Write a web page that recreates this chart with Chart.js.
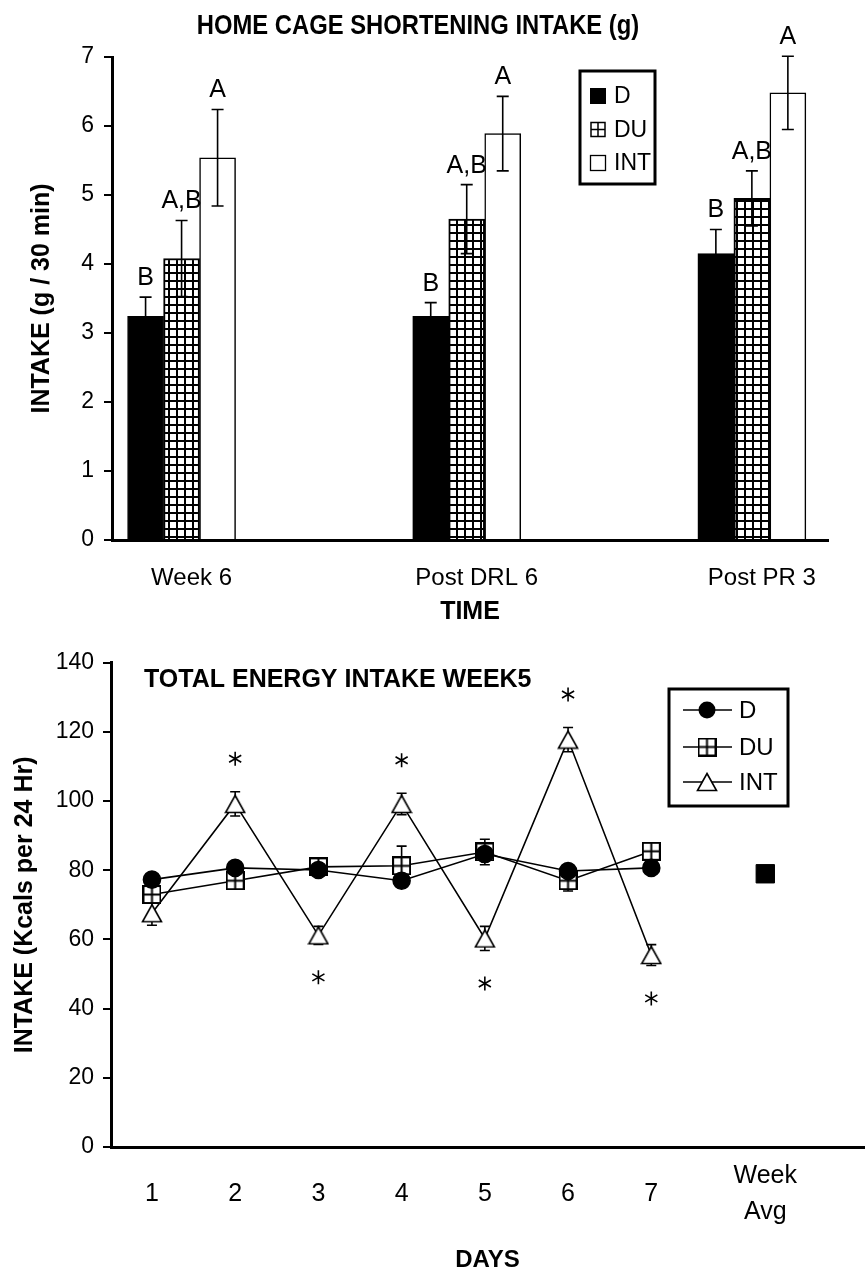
<!DOCTYPE html>
<html><head><meta charset="utf-8">
<script src="https://cdn.jsdelivr.net/npm/chart.js@4.4.1/dist/chart.umd.min.js"></script>
<style>
html,body{margin:0;padding:0;background:#fff;width:867px;height:1278px;overflow:hidden;}
.w{position:absolute;left:0;width:867px;}
#w1{top:0;height:640px;} #w2{top:640px;height:638px;}
canvas{display:block;}
</style></head><body>
<div class="w" id="w1"><canvas id="c1" width="867" height="640" style="width:867px;height:640px"></canvas></div>
<div class="w" id="w2"><canvas id="c2" width="867" height="638" style="width:867px;height:638px"></canvas></div>
<script>
// ---------- TOP CHART DATA ----------
const timeLabels = ['Week 6', 'Post DRL 6', 'Post PR 3'];
const shortD = [3.24, 3.24, 4.15];
const shortDErr = [0.28, 0.20, 0.35];
const shortDU = [4.08, 4.65, 4.95];
const shortDUErr = [0.55, 0.50, 0.40];
const shortINT = [5.54, 5.89, 6.48];
const shortINTErr = [0.70, 0.54, 0.53];
const letterD = ['B', 'B', 'B'];
const letterDU = ['A,B', 'A,B', 'A,B'];
const letterINT = ['A', 'A', 'A'];
const seriesNames = ['D', 'DU', 'INT'];

// ---------- BOTTOM CHART DATA ----------
const dayLabels = ['1', '2', '3', '4', '5', '6', '7', ['Week', 'Avg']];
const dayPos = [1, 2, 3, 4, 5, 6, 7, 8.37];
const energyD = [77.3, 80.7, 80.1, 77.0, 84.7, 79.8, 80.7];
const energyDErr = [1.5, 1.5, 1.5, 1.5, 2.0, 1.5, 1.5];
const energyDU = [73.0, 77.0, 81.0, 81.3, 85.3, 77.0, 85.5];
const energyDUErr = [1.5, 1.5, 1.5, 5.7, 3.7, 3.0, 2.0];
const energyINT = [67.6, 99.2, 61.2, 99.2, 60.3, 117.8, 55.5];
const energyINTErr = [3.5, 3.5, 2.6, 3.1, 3.5, 3.5, 3.0];
const weekAvgD = [79.0];
const weekAvgDU = [79.0];
const intSignificance = [0, 1, -1, 1, -1, 1, -1]; // 1 = asterisk above, -1 = below

const SANS = '"Liberation Sans", Arial, sans-serif';

// hatch pattern
const hatchTile = document.createElement('canvas');
hatchTile.width = 8; hatchTile.height = 8;
(function(){const g = hatchTile.getContext('2d');
g.fillStyle = '#fff'; g.fillRect(0,0,8,8);
g.fillStyle = '#000'; g.fillRect(0,0,8,2); g.fillRect(0,0,2,8);})();
const ctx1 = document.getElementById('c1').getContext('2d');
const hatch = ctx1.createPattern(hatchTile, 'repeat');

// marker canvases
function mkSquare(){
  const s = 19, c = document.createElement('canvas'); c.width = s; c.height = s;
  const g = c.getContext('2d');
  g.fillStyle = '#fff'; g.fillRect(1,1,s-2,s-2);
  g.strokeStyle = '#000'; g.lineWidth = 2; g.strokeRect(1,1,s-2,s-2);
  g.beginPath(); g.moveTo(s/2,1); g.lineTo(s/2,s-1); g.moveTo(1,s/2); g.lineTo(s-1,s/2); g.stroke();
  return c;
}
function mkTri(){
  const w = 22, h = 20, c = document.createElement('canvas'); c.width = w; c.height = h;
  const g = c.getContext('2d');
  g.beginPath(); g.moveTo(w/2,1.5); g.lineTo(w-1.5,h-1.5); g.lineTo(1.5,h-1.5); g.closePath();
  g.fillStyle = '#fff'; g.fill(); g.strokeStyle = '#000'; g.lineWidth = 1.6; g.stroke();
  return c;
}
const sqMarker = mkSquare();
const triMarker = mkTri();

function barData(arr){ return arr.map((v,i)=>({x:i, y:v})); }

const topPlugin = {
  id: 'topExtras',
  afterDatasetsDraw(chart){
    const {ctx, scales:{y}} = chart;
    ctx.save();
    chart.data.datasets.forEach((ds, i) => {
      const meta = chart.getDatasetMeta(i);
      meta.data.forEach((bar, j) => {
        const m = ds.data[j].y, e = ds.errors[j];
        const x = bar.x, yt = y.getPixelForValue(m + e), yb = y.getPixelForValue(m - e);
        ctx.strokeStyle = '#000'; ctx.lineWidth = 1.6;
        ctx.beginPath();
        ctx.moveTo(x, yt); ctx.lineTo(x, yb);
        ctx.moveTo(x - 6, yt); ctx.lineTo(x + 6, yt);
        ctx.moveTo(x - 6, yb); ctx.lineTo(x + 6, yb);
        ctx.stroke();
        ctx.fillStyle = '#000';
        ctx.font = '25px ' + SANS;
        ctx.textAlign = 'center'; ctx.textBaseline = 'middle';
        ctx.fillText(ds.letters[j], x, yt - 19);
      });
    });
    ctx.restore();
  },
  afterDraw(chart){
    const {ctx} = chart;
    ctx.save();
    // title (narrow bold)
    ctx.fillStyle = '#000';
    ctx.font = 'bold 28px ' + SANS;
    ctx.textAlign = 'center'; ctx.textBaseline = 'middle';
    ctx.save(); ctx.translate(418, 26); ctx.scale(0.85, 1);
    ctx.fillText('HOME CAGE SHORTENING INTAKE (g)', 0, 0);
    ctx.restore();
    // legend
    ctx.lineWidth = 3; ctx.strokeStyle = '#000';
    ctx.strokeRect(580, 71, 75, 113);
    const ys = [96, 129.5, 163];
    chart.data.datasets.forEach((ds, i) => {
      const yy = ys[i];
      if (i === 0) { ctx.fillStyle = '#000'; ctx.fillRect(590, yy - 8, 16, 16); }
      else if (i === 1) {
        ctx.fillStyle = '#fff'; ctx.fillRect(591, yy - 7, 14, 14);
        ctx.lineWidth = 1.5; ctx.strokeRect(591, yy - 7, 14, 14);
        ctx.beginPath(); ctx.moveTo(598, yy - 7); ctx.lineTo(598, yy + 7);
        ctx.moveTo(591, yy); ctx.lineTo(605, yy); ctx.stroke();
      } else {
        ctx.fillStyle = '#fff'; ctx.fillRect(590.5, yy - 7.5, 15, 15);
        ctx.lineWidth = 1.3; ctx.strokeRect(590.5, yy - 7.5, 15, 15);
      }
      ctx.fillStyle = '#000';
      ctx.font = '23px ' + SANS; ctx.textAlign = 'left'; ctx.textBaseline = 'middle';
      ctx.fillText(ds.label, 614, yy + 1);
    });
    ctx.restore();
  }
};

new Chart(ctx1, {
  type: 'bar',
  data: {
    datasets: [
      {label: seriesNames[0], data: barData(shortD), errors: shortDErr, letters: letterD,
       backgroundColor: '#000', borderColor: '#000', borderWidth: 1, barThickness: 36},
      {label: seriesNames[1], data: barData(shortDU), errors: shortDUErr, letters: letterDU,
       backgroundColor: hatch, borderColor: '#000', borderWidth: 2, barThickness: 36},
      {label: seriesNames[2], data: barData(shortINT), errors: shortINTErr, letters: letterINT,
       backgroundColor: '#fff', borderColor: '#000', borderWidth: 1.5, barThickness: 36}
    ]
  },
  options: {
    responsive: false, animation: false,
    layout: {autoPadding: false, padding: {left: 0, right: 39, top: 57, bottom: 0}},
    plugins: {legend: {display: false}, tooltip: {enabled: false}, title: {display: false}},
    scales: {
      x: {
        type: 'linear', min: -0.244, max: 2.267, offset: false, bounds: 'data',
        afterBuildTicks: s => { s.ticks = timeLabels.map((_, i) => ({value: i + 0.035})); },
        ticks: {callback: (v, i) => timeLabels[i], font: {family: SANS, size: 24}, color: '#000',
                padding: 24, maxRotation: 0, autoSkip: false},
        grid: {display: false, drawTicks: false},
        border: {display: true, color: '#000', width: 3},
        title: {display: true, text: 'TIME', color: '#000', padding: 13,
                font: {family: SANS, size: 25, weight: 'bold'}},
        afterFit: s => { s.height = 100; s.paddingLeft = 0; s.paddingRight = 0; }
      },
      y: {
        min: 0, max: 7,
        ticks: {stepSize: 1, font: {family: SANS, size: 23}, color: '#000', padding: 10},
        grid: {drawOnChartArea: false, drawTicks: true, tickLength: 8, color: '#000', lineWidth: 2},
        border: {display: true, color: '#000', width: 3},
        title: {display: true, text: 'INTAKE (g / 30 min)', color: '#000', padding: 27,
                font: {family: SANS, size: 25, weight: 'bold'}},
        afterFit: s => { s.width = 112; }
      }
    }
  },
  plugins: [topPlugin]
});

// ---------- BOTTOM CHART ----------
function drawAsterisk(ctx, x, y){
  const r = 7;
  ctx.beginPath();
  for (let k = 0; k < 3; k++) {
    const a = Math.PI / 2 + k * Math.PI / 3;
    ctx.moveTo(x + Math.cos(a) * r, y + Math.sin(a) * r);
    ctx.lineTo(x - Math.cos(a) * r, y - Math.sin(a) * r);
  }
  ctx.lineWidth = 1.6; ctx.strokeStyle = '#000'; ctx.stroke();
}
function pts(arr){ return arr.map((v, i) => ({x: dayPos[i], y: v})); }

const botPlugin = {
  id: 'botExtras',
  beforeDatasetsDraw(chart){
    const {ctx, scales:{y}} = chart;
    ctx.save();
    ctx.strokeStyle = '#000'; ctx.lineWidth = 1.6;
    chart.data.datasets.forEach((ds, i) => {
      if (!ds.errors) return;
      const meta = chart.getDatasetMeta(i);
      meta.data.forEach((p, j) => {
        const m = ds.data[j].y, e = ds.errors[j];
        const x = p.x, yt = y.getPixelForValue(m + e), yb = y.getPixelForValue(m - e);
        ctx.beginPath();
        ctx.moveTo(x, yt); ctx.lineTo(x, yb);
        ctx.moveTo(x - 5, yt); ctx.lineTo(x + 5, yt);
        ctx.moveTo(x - 5, yb); ctx.lineTo(x + 5, yb);
        ctx.stroke();
      });
    });
    ctx.restore();
  },
  afterDatasetsDraw(chart){
    const {ctx, scales:{y}} = chart;
    ctx.save();
    const ds = chart.data.datasets[2];
    const meta = chart.getDatasetMeta(2);
    meta.data.forEach((p, j) => {
      const dir = intSignificance[j];
      if (!dir) return;
      const m = ds.data[j].y, e = ds.errors[j];
      const yy = dir > 0 ? y.getPixelForValue(m + e) - 33 : y.getPixelForValue(m - e) + 33;
      drawAsterisk(ctx, p.x, yy);
    });
    ctx.restore();
  },
  afterDraw(chart){
    const {ctx} = chart;
    ctx.save();
    ctx.fillStyle = '#000';
    ctx.font = 'bold 25px ' + SANS;
    ctx.textAlign = 'left'; ctx.textBaseline = 'middle';
    ctx.fillText('TOTAL ENERGY INTAKE WEEK5', 144, 40);
    // legend
    ctx.lineWidth = 3; ctx.strokeStyle = '#000';
    ctx.strokeRect(669, 49, 119, 117);
    const ys = [70, 107, 142];
    for (let i = 0; i < 3; i++) {
      const ds = chart.data.datasets[i];
      const yy = ys[i];
      ctx.lineWidth = 1.6; ctx.strokeStyle = '#000';
      ctx.beginPath(); ctx.moveTo(683, yy); ctx.lineTo(732, yy); ctx.stroke();
      if (i === 0) { ctx.fillStyle = '#000'; ctx.beginPath(); ctx.arc(707, yy, 8.5, 0, Math.PI * 2); ctx.fill(); }
      else {
        const img = ds.pointStyle;
        ctx.drawImage(img, 707 - img.width / 2, yy - img.height / 2);
      }
      ctx.fillStyle = '#000';
      ctx.font = '24px ' + SANS; ctx.textAlign = 'left'; ctx.textBaseline = 'middle';
      ctx.fillText(ds.label, 739, yy + 1);
    }
    ctx.restore();
  }
};

new Chart(document.getElementById('c2').getContext('2d'), {
  type: 'line',
  data: {
    datasets: [
      {label: seriesNames[0], data: pts(energyD), errors: energyDErr, borderColor: '#000', borderWidth: 1.6,
       pointStyle: 'circle', pointRadius: 8.5, pointBackgroundColor: '#000', pointBorderColor: '#000', tension: 0},
      {label: seriesNames[1], data: pts(energyDU), errors: energyDUErr, borderColor: '#000', borderWidth: 1.6,
       pointStyle: sqMarker, pointRadius: 9, tension: 0},
      {label: seriesNames[2], data: pts(energyINT), errors: energyINTErr, borderColor: '#000', borderWidth: 1.6,
       pointStyle: triMarker, pointRadius: 10, tension: 0},
      {label: 'D avg', data: weekAvgD.map(v => ({x: dayPos[7], y: v})), showLine: false,
       pointStyle: 'circle', pointRadius: 8.5, pointBackgroundColor: '#000', pointBorderColor: '#000'},
      {label: 'DU avg', data: weekAvgDU.map(v => ({x: dayPos[7], y: v})), showLine: false,
       pointStyle: 'rect', pointRadius: 13, pointBackgroundColor: '#000', pointBorderColor: '#000'}
    ]
  },
  options: {
    responsive: false, animation: false,
    layout: {autoPadding: false, padding: {left: 0, right: 3, top: 16, bottom: 0}},
    plugins: {legend: {display: false}, tooltip: {enabled: false}, title: {display: false}},
    scales: {
      x: {
        type: 'linear', min: 0.508, max: 9.556, bounds: 'data',
        afterBuildTicks: s => { s.ticks = dayPos.map(v => ({value: v})); },
        ticks: {callback: (v, i) => dayLabels[i], font: {family: SANS, size: 25, lineHeight: 1.45}, color: '#000',
                padding: 29, maxRotation: 0, autoSkip: false, crossAlign: 'center'},
        grid: {display: false, drawTicks: false},
        border: {display: true, color: '#000', width: 3},
        title: {display: true, text: 'DAYS', color: '#000', padding: 3,
                font: {family: SANS, size: 24, weight: 'bold'}},
        afterFit: s => { s.height = 131; s.paddingLeft = 0; s.paddingRight = 0; }
      },
      y: {
        min: 0, max: 140,
        ticks: {stepSize: 20, font: {family: SANS, size: 23}, color: '#000', padding: 9},
        grid: {drawOnChartArea: false, drawTicks: true, tickLength: 8, color: '#000', lineWidth: 2},
        border: {display: true, color: '#000', width: 3},
        title: {display: true, text: 'INTAKE (Kcals per 24 Hr)', color: '#000', padding: 10,
                font: {family: SANS, size: 25, weight: 'bold'}},
        afterFit: s => { s.width = 111; }
      }
    }
  },
  plugins: [botPlugin]
});
</script>
</body></html>
